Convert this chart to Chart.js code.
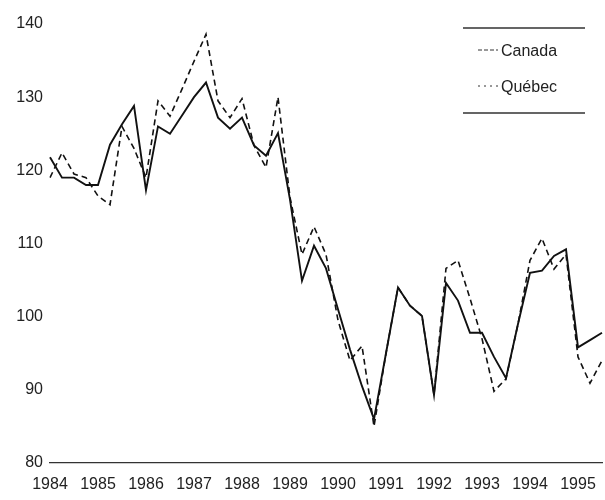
<!DOCTYPE html>
<html>
<head>
<meta charset="utf-8">
<script src="https://cdn.jsdelivr.net/npm/chart.js@4.4.1/dist/chart.umd.min.js"></script>
<style>
  html, body { margin: 0; padding: 0; background: #fff; }
  #wrap { width: 605px; height: 500px; position: relative; }
</style>
</head>
<body>
<div id="wrap"><canvas id="myChart"></canvas></div>
<script>
/*
  Canada vs Québec index, quarterly, 1984 to 1995
*/

// quarters on the x axis (1984 T1 .. 1995 T3)
const quarters = [
  "1984 T1", "1984 T2", "1984 T3", "1984 T4",
  "1985 T1", "1985 T2", "1985 T3", "1985 T4",
  "1986 T1", "1986 T2", "1986 T3", "1986 T4",
  "1987 T1", "1987 T2", "1987 T3", "1987 T4",
  "1988 T1", "1988 T2", "1988 T3", "1988 T4",
  "1989 T1", "1989 T2", "1989 T3", "1989 T4",
  "1990 T1", "1990 T2", "1990 T3", "1990 T4",
  "1991 T1", "1991 T2", "1991 T3", "1991 T4",
  "1992 T1", "1992 T2", "1992 T3", "1992 T4",
  "1993 T1", "1993 T2", "1993 T3", "1993 T4",
  "1994 T1", "1994 T2", "1994 T3", "1994 T4",
  "1995 T1", "1995 T2", "1995 T3",
];

// solid line
const canada = [
  121.8, 119, 119, 118, 118, 123.5, 126.3, 128.8,
  117.3, 126, 125, 127.5, 130, 132, 127.2, 125.7,
  127.2, 123.4, 122, 125.1, 116, 104.9, 109.7, 106.6,
  101, 95.5, 90.5, 86, 95, 104, 101.5, 100.1,
  89.3, 104.6, 102.2, 97.8, 97.8, 94.5, 91.6, 99,
  106, 106.3, 108.3, 109.2, 95.8, 96.8, 97.8,
];

// dashed line
const quebec = [
  119, 122.4, 119.5, 119, 116.5, 115.3, 126, 123,
  119, 129.5, 127.4, 131.1, 134.9, 138.6, 129.5, 127.2,
  129.8, 123.4, 120.4, 130, 116.3, 108.5, 112.3, 108.5,
  99.5, 94, 96, 85, 95, 104, 101.5, 100.1,
  89.3, 106.6, 107.7, 102.5, 97, 89.8, 91.5, 99,
  107.7, 110.7, 106.5, 108.5, 94.5, 90.9, 94,
];

const yTicks = [80, 90, 100, 110, 120, 130, 140];

const textColor = "#222";
const fontFamily = "'Liberation Sans', Arial, sans-serif";

// legend box drawn in the top right corner, like the printed figure
const boxLegend = {
  id: "boxLegend",
  afterDraw(chart) {
    const ctx = chart.ctx;
    const x0 = 463, x1 = 585;
    ctx.save();
    ctx.strokeStyle = "#333";
    ctx.lineWidth = 1.5;
    ctx.beginPath();
    ctx.moveTo(x0, 28);
    ctx.lineTo(x1, 28);
    ctx.moveTo(x0, 113);
    ctx.lineTo(x1, 113);
    ctx.stroke();

    ctx.font = "16px " + fontFamily;
    ctx.fillStyle = textColor;
    ctx.textBaseline = "middle";
    const rows = [52, 88];
    chart.data.datasets.forEach(function (ds, i) {
      const y = rows[i];
      ctx.lineWidth = 1;
      ctx.setLineDash(i === 0 ? [4, 2] : [2, 4]);
      ctx.beginPath();
      ctx.moveTo(478, y - 2);
      ctx.lineTo(498, y - 2);
      ctx.stroke();
      ctx.setLineDash([]);
      ctx.fillText(ds.label, 501, y);
    });
    ctx.restore();
  },
};

const data = {
  labels: quarters,
  datasets: [
    {
      label: "Canada",
      data: canada,
      borderColor: "#111",
      borderWidth: 1.9,
      pointRadius: 0,
      tension: 0,
      fill: false,
    },
    {
      label: "Québec",
      data: quebec,
      borderColor: "#111",
      borderWidth: 1.6,
      borderDash: [6, 4],
      pointRadius: 0,
      tension: 0,
      fill: false,
    },
  ],
};

const config = {
  type: "line",
  data,
  options: {
    responsive: true,
    maintainAspectRatio: false,
    animation: false,
    layout: { padding: { top: 24, right: 3, bottom: 0, left: 0 } },
    plugins: {
      legend: { display: false },
      tooltip: { enabled: false },
    },
    scales: {
      x: {
        type: "category",
        offset: false,
        grid: { display: false, drawTicks: false },
        border: { display: true, color: "#333", width: 1.2 },
        afterFit: function (axis) {
          axis.height = 37;
          axis.paddingRight = 0;
          axis.paddingLeft = 0;
        },
        ticks: {
          autoSkip: false,
          maxRotation: 0,
          padding: 12,
          color: textColor,
          font: { size: 16, family: fontFamily },
          callback: function (value, index) {
            const q = quarters[index];
            return q.endsWith("T1") ? q.slice(0, 4) : "";
          },
        },
      },
      y: {
        min: 80,
        max: 140,
        grid: { display: false, drawTicks: false },
        border: { display: false },
        afterBuildTicks: function (axis) {
          axis.ticks = yTicks.map(function (v) { return { value: v }; });
        },
        afterFit: function (axis) {
          axis.width = 50;
        },
        ticks: {
          padding: 7,
          color: textColor,
          font: { size: 16, family: fontFamily },
        },
      },
    },
  },
  plugins: [boxLegend],
};

const myChart = new Chart(document.getElementById("myChart"), config);
</script>
</body>
</html>
